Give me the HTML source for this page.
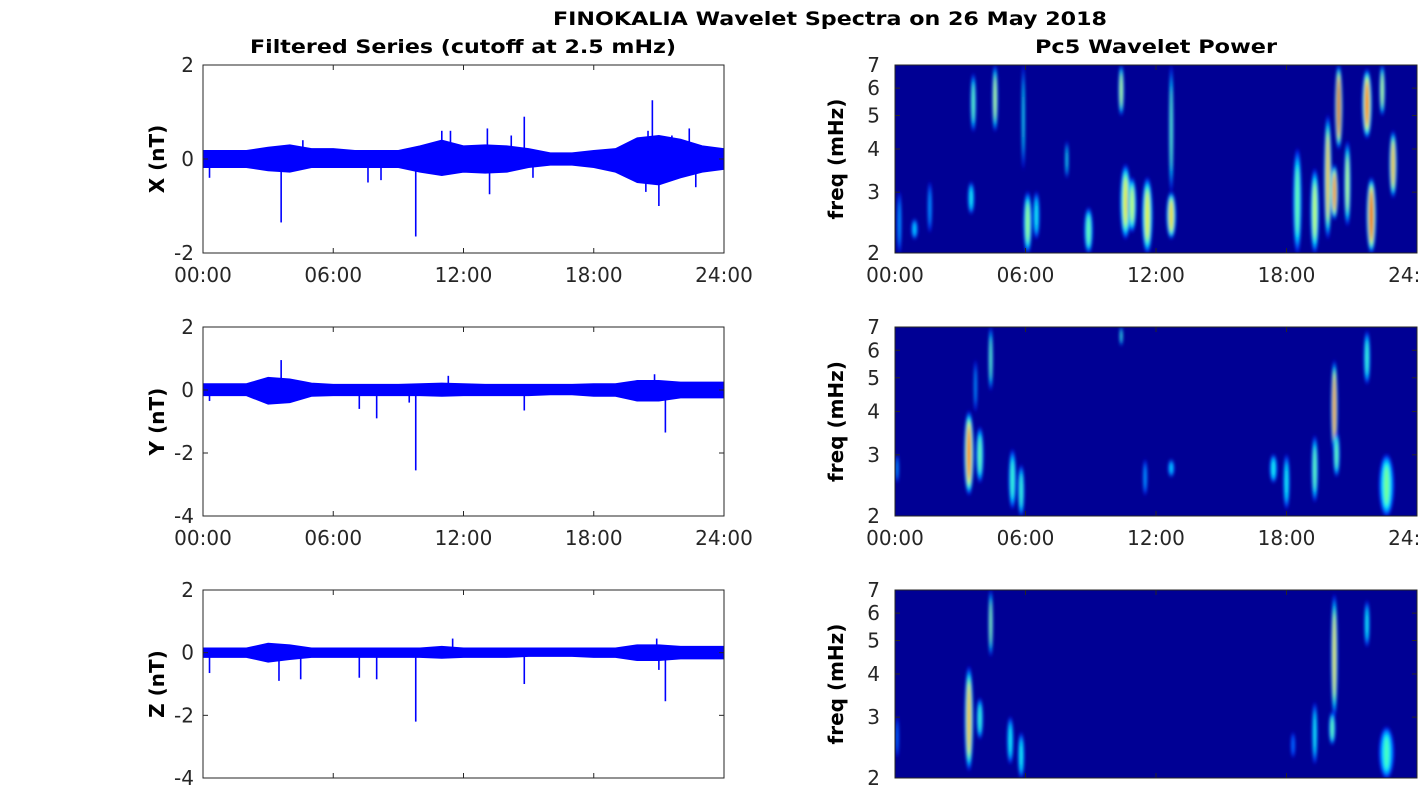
<!DOCTYPE html>
<html><head><meta charset="utf-8"><style>
body{margin:0;background:#fff;width:1418px;height:788px;overflow:hidden}
svg text{font-family:"DejaVu Sans","Liberation Sans",sans-serif}
</style></head><body>
<svg id="fig" width="1418" height="788" xmlns="http://www.w3.org/2000/svg">
<defs><filter id="bl" x="-50%" y="-20%" width="200%" height="140%"><feGaussianBlur stdDeviation="1.6 2.2"/></filter>
<clipPath id="rc1"><rect x="895" y="65" width="523" height="188"/></clipPath>
<clipPath id="rc2"><rect x="895" y="327" width="523" height="189"/></clipPath>
<clipPath id="rc3"><rect x="895" y="590" width="523" height="188"/></clipPath>
</defs>
<text x="553" y="25" font-size="19" font-weight="bold" textLength="554" lengthAdjust="spacingAndGlyphs" fill="#000">FINOKALIA Wavelet Spectra on 26 May 2018</text>
<text x="250" y="53" font-size="19" font-weight="bold" textLength="426" lengthAdjust="spacingAndGlyphs" fill="#000">Filtered Series (cutoff at 2.5 mHz)</text>
<text x="1035" y="53" font-size="19" font-weight="bold" textLength="242" lengthAdjust="spacingAndGlyphs" fill="#000">Pc5 Wavelet Power</text>
</svg>
<script>
// ---- data ----
const hourTicks = ["00:00","06:00","12:00","18:00","24:00"];
const freqTicks = [2,3,4,5,6,7];
const xUpper = [0.18,0.18,0.18,0.25,0.3,0.22,0.22,0.18,0.18,0.18,0.28,0.4,0.28,0.3,0.28,0.22,0.13,0.13,0.18,0.22,0.45,0.5,0.42,0.28,0.22];
const xLower = [-0.18,-0.18,-0.18,-0.25,-0.28,-0.18,-0.18,-0.18,-0.18,-0.18,-0.28,-0.35,-0.28,-0.3,-0.28,-0.18,-0.13,-0.13,-0.18,-0.28,-0.5,-0.55,-0.4,-0.28,-0.22];
const xSpikeT = [0.3,3.6,4.6,7.6,8.2,9.8,11.0,11.4,13.1,13.2,14.2,14.8,15.2,20.4,20.5,20.7,21.0,21.6,22.4,22.7];
const xSpikeV = [-0.4,-1.35,0.4,-0.5,-0.45,-1.65,0.6,0.6,0.65,-0.75,0.5,0.9,-0.4,-0.7,0.6,1.25,-1.0,0.5,0.65,-0.6];
const yUpper = [0.2,0.2,0.2,0.4,0.35,0.22,0.18,0.18,0.18,0.18,0.2,0.22,0.2,0.18,0.18,0.18,0.18,0.18,0.2,0.2,0.3,0.3,0.25,0.25,0.25];
const yLower = [-0.18,-0.18,-0.18,-0.45,-0.4,-0.2,-0.18,-0.18,-0.18,-0.18,-0.18,-0.2,-0.18,-0.18,-0.18,-0.18,-0.15,-0.15,-0.2,-0.2,-0.35,-0.35,-0.25,-0.25,-0.25];
const ySpikeT = [0.3,3.6,7.2,8.0,9.5,9.8,11.3,14.8,20.8,21.3];
const ySpikeV = [-0.35,0.95,-0.6,-0.9,-0.4,-2.55,0.45,-0.65,0.5,-1.35];
const zUpper = [0.15,0.15,0.15,0.3,0.25,0.15,0.15,0.15,0.15,0.15,0.15,0.2,0.15,0.15,0.15,0.15,0.15,0.15,0.15,0.15,0.25,0.25,0.2,0.2,0.2];
const zLower = [-0.15,-0.15,-0.15,-0.3,-0.22,-0.15,-0.15,-0.15,-0.15,-0.15,-0.15,-0.18,-0.15,-0.15,-0.15,-0.12,-0.12,-0.12,-0.15,-0.15,-0.25,-0.25,-0.2,-0.2,-0.2];
const zSpikeT = [0.3,3.5,4.5,7.2,8.0,9.8,11.5,14.8,20.9,21.0,21.3];
const zSpikeV = [-0.65,-0.9,-0.85,-0.8,-0.85,-2.2,0.45,-1.0,0.45,-0.55,-1.55];
// wavelet blobs: hour, low freq, high freq, peak power (0..1 jet), width (hours)
const w1Hour = [0.2,0.9,1.6,3.6,3.5,4.6,5.9,6.1,6.5,7.9,8.9,10.4,10.6,10.9,11.6,12.7,12.7,18.5,19.3,19.9,20.4,20.2,20.8,21.7,21.9,22.4,22.9];
const w1Lo   = [2.0,2.2,2.3,4.5,2.6,4.5,3.5,2.0,2.2,3.3,2.0,5.0,2.2,2.3,2.0,3.0,2.2,2.0,2.0,2.2,4.0,2.5,2.4,4.3,2.0,5.0,2.9];
const w1Hi   = [3.0,2.5,3.2,6.6,3.2,7.0,7.0,3.0,3.0,4.2,2.7,7.0,3.6,3.3,3.3,7.0,3.0,4.0,3.5,5.0,7.0,3.6,4.2,6.8,3.3,7.0,4.5];
const w1Pow  = [0.3,0.35,0.3,0.5,0.4,0.6,0.4,0.55,0.4,0.4,0.5,0.6,0.65,0.6,0.65,0.5,0.7,0.5,0.6,0.75,0.95,0.85,0.6,0.85,0.9,0.6,0.75];
const w1Wid  = [0.2,0.3,0.2,0.25,0.3,0.25,0.15,0.4,0.3,0.15,0.4,0.25,0.5,0.4,0.5,0.2,0.45,0.4,0.4,0.35,0.35,0.35,0.3,0.45,0.45,0.25,0.35];
const w2Hour = [0.1,3.4,3.9,4.4,3.7,5.4,5.8,10.4,11.5,12.7,17.4,18.0,19.3,20.2,20.3,21.7,22.6];
const w2Lo   = [2.5,2.3,2.5,4.6,4.0,2.1,2.0,6.2,2.3,2.6,2.5,2.1,2.2,3.0,2.6,4.8,2.0];
const w2Hi   = [3.0,4.0,3.6,7.0,5.6,3.1,2.8,7.0,2.9,2.9,3.0,3.0,3.4,5.6,3.5,6.8,3.0];
const w2Pow  = [0.3,0.85,0.5,0.5,0.3,0.45,0.45,0.45,0.3,0.35,0.4,0.4,0.5,0.85,0.5,0.45,0.5];
const w2Wid  = [0.15,0.45,0.35,0.2,0.15,0.35,0.3,0.15,0.2,0.3,0.35,0.3,0.3,0.3,0.3,0.3,0.7];
const w3Hour = [0.1,3.4,3.9,4.4,5.3,5.8,18.3,19.3,20.2,20.1,21.7,22.6];
const w3Lo   = [2.3,2.1,2.6,4.5,2.2,2.0,2.3,2.2,3.0,2.5,4.8,2.0];
const w3Hi   = [3.0,4.2,3.4,7.0,3.0,2.7,2.7,3.3,6.8,3.1,6.5,2.8];
const w3Pow  = [0.25,0.75,0.45,0.55,0.4,0.4,0.25,0.4,0.7,0.5,0.4,0.45];
const w3Wid  = [0.15,0.4,0.3,0.2,0.3,0.3,0.2,0.25,0.3,0.3,0.25,0.7];

const NS="http://www.w3.org/2000/svg";
const svg=document.getElementById('fig');
function el(tag,attrs,parent){const e=document.createElementNS(NS,tag);for(const k in attrs)e.setAttribute(k,attrs[k]);(parent||svg).appendChild(e);return e;}
function jet(t){const c=v=>Math.round(255*Math.max(0,Math.min(1,v)));return `rgb(${c(1.5-Math.abs(4*t-3))},${c(1.5-Math.abs(4*t-2))},${c(1.5-Math.abs(4*t-1))})`;}
const AX='#262626';

function axesFrame(x0,y0,w,h,name,bg){
  const r=el('rect',{x:x0,y:y0,width:w,height:h,fill:bg||'#fff',stroke:'none'});
  
  
  return r;
}
function frameBorder(x0,y0,w,h,name,bottomLabels,xs,yTicks,ys,yLabel,labelX,tickLabelX){
  const g=el('g',{});
  
  
  el('rect',{x:x0,y:y0,width:w,height:h,fill:'none',stroke:AX,'stroke-width':1},g);
  hourTicks.forEach((lab,i)=>{const x=xs(i*6);
    el('line',{x1:x,x2:x,y1:y0+h,y2:y0+h-5,stroke:AX},g);
    el('line',{x1:x,x2:x,y1:y0,y2:y0+5,stroke:AX},g);
    if(bottomLabels){const t=el('text',{x:x,y:y0+h+29,'font-size':20,'text-anchor':'middle',fill:AX},g);t.textContent=lab;
      
      }
  });
  yTicks.forEach(v=>{const y=ys(v);
    el('line',{x1:x0,x2:x0+5,y1:y,y2:y,stroke:AX},g);
    el('line',{x1:x0+w,x2:x0+w-5,y1:y,y2:y,stroke:AX},g);
    const t=el('text',{x:tickLabelX,y:y+7,'font-size':20,'text-anchor':'end',fill:AX},g);t.textContent=v;
    
    
  });
  const cy=y0+h/2;
  const t=el('text',{x:labelX,y:cy,'font-size':20,'font-weight':'bold','text-anchor':'middle',fill:'#000',transform:`rotate(-90 ${labelX} ${cy})`},g);
  t.textContent=yLabel;
  
  
}

function series(y0,h,ymin,ymax,upper,lower,sT,sV,name,yTicks,yLabel,labels){
  const x0=203,w=521;
  const xs=hr=>x0+hr/24*w;
  const ys=v=>y0+h-(v-ymin)/(ymax-ymin)*h;
  axesFrame(x0,y0,w,h,name,'#fff');
  let pts=upper.map((v,i)=>`${xs(i)},${ys(v)}`);
  for(let i=lower.length-1;i>=0;i--)pts.push(`${xs(i)},${ys(lower[i])}`);
  const p=el('polygon',{points:pts.join(' '),fill:'#0000ff',stroke:'#0000ff','stroke-width':1});
  
  
  sT.forEach((t,i)=>{
    const l=el('line',{x1:xs(t),x2:xs(t),y1:ys(0),y2:ys(sV[i]),stroke:'#0000ff','stroke-width':1.6});
    
    
  });
  frameBorder(x0,y0,w,h,name,labels,xs,yTicks,ys,yLabel,164,194);
}

function wavelet(y0,h,hours,lo,hi,pow,wid,name,clip,labels){
  const x0=895,w=522;
  const xs=hr=>x0+hr/24*w;
  const lmin=Math.log(2),lmax=Math.log(7);
  const ys=f=>y0+h-(Math.log(f)-lmin)/(lmax-lmin)*h;
  axesFrame(x0,y0,w,h,name,jet(0.02));
  const g=el('g',{'clip-path':`url(#${clip})`,filter:'url(#bl)'});
  
  
  const n=7;
  hours.forEach((hr,i)=>{
    const cx=xs(hr),yt=ys(hi[i]),yb=ys(lo[i]);
    const cy=(yt+yb)/2,ry=(yb-yt)/2,rx=wid[i]/24*w/2;
    for(let k=0;k<n;k++){
      const s=1-0.8*k/(n-1);
      const t=0.15+(pow[i]-0.15)*k/(n-1);
      const e=el('ellipse',{cx:cx,cy:cy,rx:Math.max(0.6,rx*s),ry:ry*(0.5+0.5*s),fill:jet(t)},g);
      
      
    }
  });
  frameBorder(x0,y0,w,h,name,labels,xs,freqTicks,ys,'freq (mHz)',843,880);
}

series(65,188,-2,2,xUpper,xLower,xSpikeT,xSpikeV,'x-series',[-2,0,2],'X (nT)',true);
series(327,189,-4,2,yUpper,yLower,ySpikeT,ySpikeV,'y-series',[-4,-2,0,2],'Y (nT)',true);
series(590,188,-4,2,zUpper,zLower,zSpikeT,zSpikeV,'z-series',[-4,-2,0,2],'Z (nT)',false);
wavelet(65,188,w1Hour,w1Lo,w1Hi,w1Pow,w1Wid,'x-wavelet','rc1',true);
wavelet(327,189,w2Hour,w2Lo,w2Hi,w2Pow,w2Wid,'y-wavelet','rc2',true);
wavelet(590,188,w3Hour,w3Lo,w3Hi,w3Pow,w3Wid,'z-wavelet','rc3',false);
</script>
</body></html>
